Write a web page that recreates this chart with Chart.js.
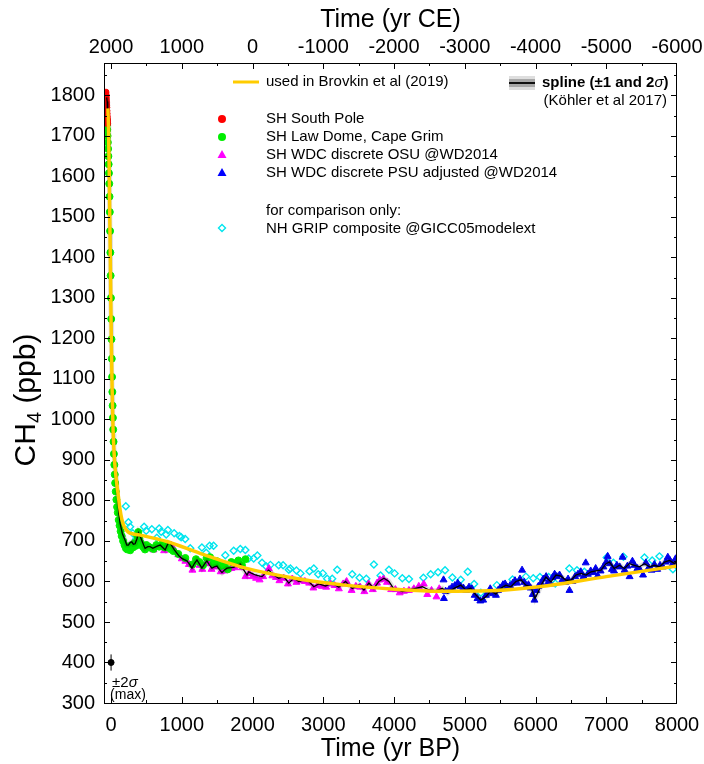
<!DOCTYPE html>
<html>
<head>
<meta charset="utf-8">
<title>Holocene CH4</title>
<script src="https://cdn.jsdelivr.net/npm/chart.js@4.4.0/dist/chart.umd.min.js"></script>
<style>
  html, body { margin: 0; padding: 0; background: #fff; }
  #wrap { width: 704px; height: 764px; }
</style>
</head>
<body>
<div id="wrap"><canvas id="ch4Chart" width="704" height="764"></canvas></div>
<script>
// axis ranges and tick labels
const xMinBP = -100, xMaxBP = 8000;
const yMin = 300, yMax = 1880;
const ceOffset = 2000; // top axis: yr CE = 2000 - yr BP
const bpTicks = [0, 1000, 2000, 3000, 4000, 5000, 6000, 7000, 8000];
const ceTicks = [2000, 1000, 0, -1000, -2000, -3000, -4000, -5000, -6000];
const ppbTicks = [300, 400, 500, 600, 700, 800, 900, 1000, 1100, 1200, 1300, 1400, 1500, 1600, 1700, 1800];

// SH South Pole
const redBP  = [-72, -70, -68, -66, -64, -62, -60, -58, -56, -54, -52, -50, -48];
const redPpb = [1808, 1802, 1796, 1790, 1783, 1776, 1770, 1762, 1755, 1748, 1742, 1736, 1730];

// SH Law Dome, Cape Grim
const greenBP = [-62, -58, -54, -50, -46, -42, -38, -34, -30, -26, -22, -18, -14, -10, -6, -2, 2, 6, 10, 14,
  18, 22, 26, 30, 35, 40, 46, 52, 58, 66, 75, 85, 95, 108, 120, 135, 150, 170, 190, 210,
  230, 250, 270, 290, 310, 330, 350, 370, 385, 400, 420, 440, 460, 480, 500, 530, 560, 600, 640, 680,
  720, 760, 800, 840, 880, 950, 1050, 1150, 1200, 1250, 1300, 1350, 1400, 1450, 1500, 1550, 1600, 1650, 1700, 1750,
  1800, 1850, 1900];
const greenPpb = [1740, 1728, 1715, 1700, 1684, 1668, 1650, 1630, 1608, 1582, 1550, 1512, 1465, 1412, 1355, 1300, 1248, 1198, 1150, 1105,
  1068, 1034, 1004, 975, 945, 915, 888, 864, 843, 822, 802, 784, 770, 752, 738, 724, 712, 700, 690, 682,
  679, 686, 677, 690, 684, 695, 688, 712, 722, 705, 695, 688, 684, 679, 690, 686, 683, 680, 690, 686,
  692, 684, 690, 680, 675, 668, 658, 642, 655, 648, 640, 658, 660, 645, 650, 638, 640, 630, 648, 645,
  652, 640, 655];

// SH WDC discrete OSU @WD2014
const magentaBP = [600, 650, 700, 750, 800, 850, 900, 950, 1000, 1050, 1100, 1150, 1200, 1250, 1290, 1340, 1380, 1420, 1460, 1500,
  1550, 1600, 1650, 1700, 1750, 1800, 1850, 1900, 1950, 2000, 2050, 2100, 2150, 2230, 2280, 2330, 2380, 2440, 2500, 2560,
  2620, 2680, 2740, 2800, 2860, 2920, 2980, 3040, 3100, 3160, 3220, 3280, 3330, 3400, 3460, 3520, 3580, 3640, 3700, 3760,
  3800, 3850, 3900, 3960, 4020, 4080, 4140, 4210, 4280, 4350, 4420, 4470, 4530, 4600, 4640];
const magentaPpb = [678, 684, 686, 676, 684, 690, 676, 666, 656, 650, 642, 628, 648, 640, 630, 644, 648, 630, 636, 640,
  624, 626, 630, 632, 634, 640, 634, 612, 620, 612, 608, 604, 612, 632, 614, 610, 602, 608, 594, 606,
  598, 602, 600, 596, 584, 590, 588, 586, 594, 590, 582, 594, 600, 578, 588, 586, 575, 594, 580, 596,
  604, 606, 598, 580, 580, 572, 576, 578, 582, 588, 594, 568, 578, 562, 582];

// SH WDC discrete PSU adjusted @WD2014
const blueBP = [4700, 4705, 4730, 4780, 4820, 4860, 4900, 4940, 4980, 5020, 5060, 5100, 5140, 5180, 5220, 5260, 5300, 5330, 5360, 5400,
  5440, 5470, 5500, 5540, 5570, 5600, 5640, 5680, 5710, 5740, 5780, 5810, 5840, 5870, 5900, 5930, 5960, 5985, 6010, 6040,
  6080, 6110, 6150, 6180, 6210, 6240, 6270, 6300, 6340, 6380, 6420, 6460, 6480, 6520, 6560, 6600, 6640, 6680, 6710, 6740,
  6780, 6820, 6850, 6880, 6920, 6960, 7000, 7020, 7050, 7080, 7110, 7150, 7190, 7230, 7260, 7300, 7330, 7370, 7400, 7440,
  7480, 7520, 7560, 7600, 7640, 7680, 7720, 7760, 7800, 7840, 7870, 7900, 7940, 7980, 8000];
const bluePpb = [604, 558, 576, 580, 586, 590, 596, 588, 584, 578, 586, 582, 566, 558, 552, 554, 566, 572, 582, 570,
  566, 578, 584, 592, 594, 586, 590, 596, 602, 596, 606, 628, 598, 590, 592, 584, 568, 554, 578, 588,
  596, 606, 612, 598, 594, 610, 618, 612, 616, 604, 598, 606, 578, 600, 612, 618, 624, 612, 646, 618,
  626, 622, 632, 614, 626, 636, 648, 662, 644, 630, 626, 640, 636, 660, 628, 638, 612, 650, 640, 632,
  628, 616, 646, 634, 628, 642, 630, 640, 636, 648, 660, 652, 644, 656, 650];

// NH GRIP composite @GICC05modelext
const cyanBP = [208, 245, 269, 307, 354, 467, 496, 576, 647, 680, 708, 779, 803, 892, 967, 991, 1048, 1119, 1284, 1345,
  1393, 1449, 1615, 1733, 1827, 1898, 1945, 2016, 2068, 2134, 2195, 2252, 2370, 2432, 2512, 2535, 2620, 2677, 2805, 2866,
  2928, 2993, 3055, 3126, 3197, 3409, 3513, 3608, 3715, 3810, 3928, 4008, 4117, 4211, 4415, 4518, 4622, 4721, 4825, 4943,
  5042, 5132, 5227, 5453, 5557, 5675, 5864, 5968, 6062, 6185, 6279, 6478, 6586, 6690, 7007, 7101, 7243, 7540, 7649, 7752,
  7942];
const cyanPpb = [786, 746, 735, 719, 704, 735, 725, 729, 708, 731, 723, 716, 727, 719, 712, 709, 705, 682, 684, 671,
  688, 688, 665, 676, 680, 678, 657, 657, 664, 646, 637, 641, 640, 640, 629, 632, 627, 620, 625, 632,
  618, 620, 607, 607, 629, 618, 609, 607, 642, 615, 629, 620, 608, 606, 609, 618, 623, 628, 610, 604,
  624, 594, 572, 591, 591, 605, 612, 608, 611, 611, 595, 632, 628, 624, 659, 646, 661, 659, 652, 662,
  630];

// spline (Köhler et al 2017)
const splineBP = [-62, -55, -50, -45, -40, -35, -30, -25, -20, -15, -10, -5, 0, 5, 10, 15, 20, 25, 30, 40,
  50, 60, 75, 90, 110, 127, 160, 198, 222, 245, 270, 293, 315, 340, 365, 387, 410, 434, 460, 481,
  520, 552, 590, 623, 660, 694, 730, 765, 790, 812, 835, 859, 895, 930, 965, 1001, 1035, 1072, 1110, 1143,
  1180, 1214, 1250, 1284, 1320, 1355, 1390, 1426, 1460, 1497, 1530, 1568, 1600, 1638, 1690, 1733, 1780, 1827, 1870, 1922,
  1945, 1990, 2040, 2090, 2134, 2180, 2228, 2299, 2370, 2441, 2512, 2582, 2653, 2724, 2795, 2866, 2936, 3031, 3126, 3220,
  3314, 3409, 3503, 3574, 3645, 3715, 3786, 3857, 3928, 3999, 4060, 4117, 4211, 4306, 4400, 4495, 4589, 4683, 4754, 4849,
  4943, 5014, 5085, 5156, 5227, 5297, 5368, 5439, 5510, 5581, 5652, 5722, 5793, 5864, 5935, 5992, 6040, 6076, 6147, 6218,
  6289, 6360, 6431, 6501, 6572, 6643, 6714, 6785, 6856, 6926, 6997, 7044, 7115, 7186, 7257, 7327, 7398, 7469, 7540, 7611,
  7681, 7752, 7823, 7894, 7965, 8000];
const splinePpb = [1795, 1785, 1770, 1750, 1728, 1700, 1665, 1610, 1530, 1460, 1390, 1320, 1245, 1180, 1125, 1075, 1035, 995, 965, 930,
  900, 875, 850, 815, 768, 744, 718, 702, 690, 690, 696, 698, 692, 693, 705, 720, 712, 702, 690, 682,
  686, 686, 682, 685, 688, 690, 684, 678, 688, 696, 694, 688, 678, 670, 662, 657, 654, 651, 642, 633,
  645, 653, 643, 633, 643, 651, 641, 633, 636, 638, 630, 622, 628, 633, 634, 635, 640, 643, 630, 616,
  624, 620, 616, 614, 612, 620, 628, 616, 608, 612, 596, 608, 600, 604, 600, 587, 594, 589, 596, 586,
  600, 583, 591, 579, 596, 583, 600, 608, 600, 581, 579, 575, 579, 583, 587, 579, 577, 583, 572, 583,
  591, 579, 583, 567, 554, 562, 577, 569, 583, 591, 587, 600, 604, 591, 587, 558, 575, 590, 611, 599,
  616, 613, 603, 603, 616, 620, 616, 624, 626, 628, 644, 648, 632, 640, 632, 644, 640, 636, 644, 636,
  640, 636, 648, 652, 644, 650];

// used in Brovkin et al (2019)
const brovkinBP  = [-45, -35, -27, -19, -10, -2, 5, 15, 28, 45, 60, 75, 100, 125, 150, 180, 220, 260, 400, 800,
  1250, 1900, 2600, 3300, 4000, 4650, 5350, 6050, 7000, 8000];
const brovkinPpb = [1768, 1705, 1620, 1510, 1390, 1270, 1180, 1075, 975, 910, 875, 850, 815, 780, 755, 738, 726, 720, 715, 698,
  670, 633, 608, 591, 581, 576, 577, 587, 612, 638];

// largest 2-sigma uncertainty, shown as a single error bar
const errBP = [0];
const errPpb = [400];
const errSigma2 = [20];

const FONT = '"Liberation Sans", Arial, Helvetica, sans-serif';
const pairs = (xs, ys) => xs.map((x, i) => ({ x: x, y: ys[i] }));
const midpoints = arr => arr.slice(1).map((v, i) => (v + arr[i]) / 2);

// inward tick marks, frame, error bar, y title, legend and notes
const decorations = {
  id: 'decorations',
  afterDatasetsDraw(chart) {
    const ctx = chart.ctx;
    const a = chart.chartArea;
    const sx = chart.scales.x, st = chart.scales.xTop, sy = chart.scales.y;
    ctx.save();
    ctx.strokeStyle = '#000';
    ctx.lineWidth = 1;

    // error bar
    errBP.forEach((bp, i) => {
      const px = sx.getPixelForValue(bp);
      ctx.beginPath();
      ctx.moveTo(px, sy.getPixelForValue(errPpb[i] - errSigma2[i]));
      ctx.lineTo(px, sy.getPixelForValue(errPpb[i] + errSigma2[i]));
      ctx.stroke();
    });

    // frame
    ctx.strokeRect(a.left + 0.5, a.top + 0.5, a.right - a.left - 1, a.bottom - a.top);

    const tick = (x1, y1, x2, y2) => {
      ctx.beginPath(); ctx.moveTo(x1, y1); ctx.lineTo(x2, y2); ctx.stroke();
    };
    const inX = px => px >= a.left && px <= a.right;
    const inY = py => py >= a.top && py <= a.bottom;
    bpTicks.forEach(v => { const p = Math.round(sx.getPixelForValue(v)) + 0.5; if (inX(p)) tick(p, a.bottom, p, a.bottom - 6); });
    midpoints(bpTicks).forEach(v => { const p = Math.round(sx.getPixelForValue(v)) + 0.5; if (inX(p)) tick(p, a.bottom, p, a.bottom - 3); });
    ceTicks.forEach(v => { const p = Math.round(st.getPixelForValue(v)) + 0.5; if (inX(p)) tick(p, a.top, p, a.top + 6); });
    midpoints(ceTicks).forEach(v => { const p = Math.round(st.getPixelForValue(v)) + 0.5; if (inX(p)) tick(p, a.top, p, a.top + 3); });
    const ppbMinor = midpoints(ppbTicks).concat([ppbTicks[ppbTicks.length - 1] + 50]);
    ppbTicks.forEach(v => {
      const p = Math.round(sy.getPixelForValue(v)) + 0.5;
      if (inY(p)) { tick(a.left, p, a.left + 6, p); tick(a.right, p, a.right - 6, p); }
    });
    ppbMinor.forEach(v => {
      const p = Math.round(sy.getPixelForValue(v)) + 0.5;
      if (inY(p)) { tick(a.left, p, a.left + 3, p); tick(a.right, p, a.right - 3, p); }
    });

    // y axis title with subscript
    ctx.fillStyle = '#000';
    ctx.textBaseline = 'middle';
    ctx.save();
    ctx.translate(27, 400);
    ctx.rotate(-Math.PI / 2);
    ctx.font = '30px ' + FONT;
    const wCH = ctx.measureText('CH').width;
    const wRest = ctx.measureText(' (ppb)').width;
    ctx.font = '20px ' + FONT;
    const wSub = ctx.measureText('4').width;
    let ty = -(wCH + wSub + wRest) / 2;
    ctx.textAlign = 'left';
    ctx.font = '30px ' + FONT;
    ctx.fillText('CH', ty, 0);
    ty += wCH;
    ctx.font = '20px ' + FONT;
    ctx.fillText('4', ty, 8);
    ty += wSub;
    ctx.font = '30px ' + FONT;
    ctx.fillText(' (ppb)', ty, 0);
    ctx.restore();

    // note under the error bar
    ctx.textAlign = 'left';
    const ex = sx.getPixelForValue(errBP[0]);
    ctx.font = '15px ' + FONT;
    ctx.fillText('\u00b12', ex + 1, 683);
    const w2 = ctx.measureText('\u00b12').width;
    ctx.font = 'italic 15px ' + FONT;
    ctx.fillText('\u03c3', ex + 1 + w2, 683);
    ctx.font = '14px ' + FONT;
    ctx.fillText('(max)', ex - 1, 695);

    // legend
    const lx = 266, mx = 222;
    ctx.font = '15px ' + FONT;
    ctx.strokeStyle = '#ffcc00';
    ctx.lineWidth = 3;
    tick(233, 82, 259, 82);
    ctx.fillText('used in Brovkin et al (2019)', lx, 82);

    ctx.fillStyle = '#dedede';
    ctx.fillRect(509, 76, 26, 14);
    ctx.fillStyle = '#a8a8a8';
    ctx.fillRect(509, 79, 26, 8);
    ctx.strokeStyle = '#000';
    ctx.lineWidth = 1.8;
    tick(509, 83, 535, 83);
    ctx.fillStyle = '#000';
    let tx = 542;
    ctx.font = 'bold 15px ' + FONT;
    ctx.fillText('spline (\u00b11 and 2', tx, 83);
    tx += ctx.measureText('spline (\u00b11 and 2').width;
    ctx.font = 'italic 15px ' + FONT;
    ctx.fillText('\u03c3', tx, 83);
    tx += ctx.measureText('\u03c3').width;
    ctx.font = 'bold 15px ' + FONT;
    ctx.fillText(')', tx, 83);
    ctx.font = '15px ' + FONT;
    ctx.textAlign = 'right';
    ctx.fillText('(K\u00f6hler et al 2017)', 667, 101);
    ctx.textAlign = 'left';

    const circle = (y, color) => {
      ctx.fillStyle = color;
      ctx.beginPath(); ctx.arc(mx, y, 4, 0, Math.PI * 2); ctx.fill();
    };
    const triangle = (y, color) => {
      ctx.fillStyle = color;
      ctx.beginPath(); ctx.moveTo(mx, y - 5); ctx.lineTo(mx + 4.5, y + 3); ctx.lineTo(mx - 4.5, y + 3); ctx.closePath(); ctx.fill();
    };
    circle(119, '#ff0000');
    circle(137, '#00ee00');
    triangle(155, '#ff00ff');
    triangle(173, '#0000ff');
    ctx.strokeStyle = '#00e5ee';
    ctx.lineWidth = 1.4;
    ctx.beginPath();
    ctx.moveTo(mx, 224.5); ctx.lineTo(mx + 3.5, 228); ctx.lineTo(mx, 231.5); ctx.lineTo(mx - 3.5, 228); ctx.closePath();
    ctx.stroke();

    ctx.fillStyle = '#000';
    ctx.fillText('SH South Pole', lx, 119);
    ctx.fillText('SH Law Dome, Cape Grim', lx, 137);
    ctx.fillText('SH WDC discrete OSU @WD2014', lx, 155);
    ctx.fillText('SH WDC discrete PSU adjusted @WD2014', lx, 173);
    ctx.fillText('for comparison only:', lx, 211);
    ctx.fillText('NH GRIP composite @GICC05modelext', lx, 229);
    ctx.restore();
  }
};

const tickFont = { family: FONT, size: 20 };
const titleFont = { family: FONT, size: 25 };

// fixed axis boxes so the plot frame lands where it should
const fitHorizontal = h => s => { s.height = h; s.paddingLeft = 0; s.paddingRight = 0; };

new Chart(document.getElementById('ch4Chart'), {
  type: 'scatter',
  data: {
    datasets: [
      {
        label: 'used in Brovkin et al (2019)',
        data: pairs(brovkinBP, brovkinPpb),
        showLine: true, borderColor: '#ffcc00', borderWidth: 3.5,
        pointRadius: 0, cubicInterpolationMode: 'monotone', order: 0
      },
      {
        label: 'spline',
        data: pairs(splineBP, splinePpb),
        showLine: true, borderColor: '#000', borderWidth: 1.3, pointRadius: 0, order: 1
      },
      {
        label: 'spline band',
        data: pairs(splineBP, splinePpb),
        showLine: true, borderColor: 'rgba(0,0,0,0.12)', borderWidth: 5, pointRadius: 0, order: 2
      },
      {
        label: 'SH South Pole',
        data: pairs(redBP, redPpb),
        pointStyle: 'circle', pointRadius: 3, backgroundColor: '#ff0000', borderColor: '#ff0000', order: 3
      },
      {
        label: 'SH Law Dome, Cape Grim',
        data: pairs(greenBP, greenPpb),
        pointStyle: 'circle', pointRadius: 3.5, backgroundColor: '#00ee00', borderColor: '#00ee00', order: 4
      },
      {
        label: 'SH WDC discrete OSU @WD2014',
        data: pairs(magentaBP, magentaPpb),
        pointStyle: 'triangle', pointRadius: 4, backgroundColor: '#ff00ff', borderColor: '#ff00ff', order: 5
      },
      {
        label: 'SH WDC discrete PSU adjusted @WD2014',
        data: pairs(blueBP, bluePpb),
        pointStyle: 'triangle', pointRadius: 4, backgroundColor: '#0000ee', borderColor: '#0000ee', order: 6
      },
      {
        label: 'NH GRIP composite @GICC05modelext',
        data: pairs(cyanBP, cyanPpb),
        pointStyle: 'rectRot', pointRadius: 3.5, borderWidth: 1.4,
        backgroundColor: 'rgba(255,255,255,0)', borderColor: '#00e5ee', order: 7
      },
      {
        label: '2 sigma max',
        data: pairs(errBP, errPpb),
        pointStyle: 'circle', pointRadius: 3, backgroundColor: '#000', borderColor: '#000', order: 0
      }
    ]
  },
  options: {
    responsive: false,
    animation: false,
    events: [],
    layout: { padding: { left: 0, right: 27, top: 0, bottom: 0 } },
    plugins: {
      legend: { display: false },
      tooltip: { enabled: false }
    },
    scales: {
      x: {
        type: 'linear', position: 'bottom', min: xMinBP, max: xMaxBP,
        afterBuildTicks: s => { s.ticks = bpTicks.map(v => ({ value: v })); },
        afterFit: fitHorizontal(61),
        grid: { display: false, drawTicks: false },
        border: { display: false },
        ticks: { color: '#000', font: tickFont, padding: 10, maxRotation: 0, callback: v => String(v) },
        title: { display: true, text: 'Time (yr BP)', color: '#000', font: titleFont, padding: { top: 3, bottom: 0 } }
      },
      xTop: {
        type: 'linear', position: 'top', reverse: true,
        min: ceOffset - xMaxBP, max: ceOffset - xMinBP,
        afterBuildTicks: s => { s.ticks = ceTicks.map(v => ({ value: v })); },
        afterFit: fitHorizontal(63),
        grid: { display: false, drawTicks: false },
        border: { display: false },
        ticks: { color: '#000', font: tickFont, padding: 4, maxRotation: 0, callback: v => String(v) },
        title: { display: true, text: 'Time (yr CE)', color: '#000', font: titleFont, padding: { top: 5, bottom: 0 } }
      },
      y: {
        type: 'linear', position: 'left', min: yMin, max: yMax,
        afterBuildTicks: s => { s.ticks = ppbTicks.map(v => ({ value: v })); },
        afterFit: s => { s.width = 104; },
        grid: { display: false, drawTicks: false },
        border: { display: false },
        ticks: { color: '#000', font: tickFont, padding: 9, callback: v => String(v) },
        title: { display: false }
      }
    }
  },
  plugins: [decorations]
});
</script>
</body>
</html>
